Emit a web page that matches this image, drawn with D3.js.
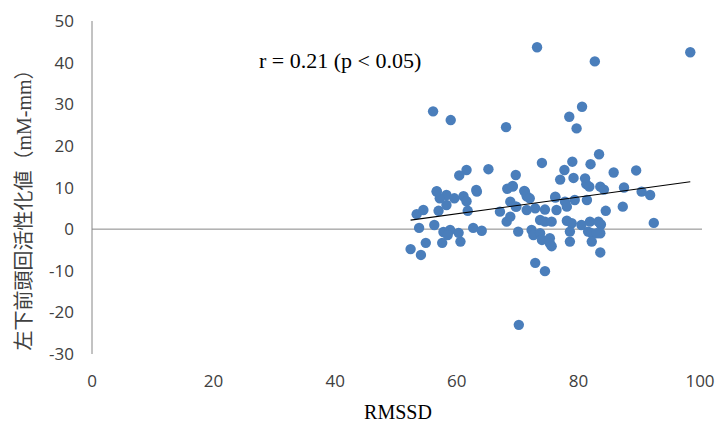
<!DOCTYPE html>
<html>
<head>
<meta charset="utf-8">
<script src="https://cdn.jsdelivr.net/npm/d3@7"></script>
<style>
  html, body { margin: 0; padding: 0; background: #fff; }
  svg { display: block; }
</style>
</head>
<body>
<svg id="chart" width="720" height="426"></svg>
<script>
// RMSSD (x) vs activation of left inferior frontal gyrus (y)
const rmssd = [
  73.2, 82.7, 98.4, 56.1, 59.0, 68.1, 80.6, 78.5, 79.7, 83.4,
  74.0, 79.0, 82.0, 77.7, 77.0, 79.2, 81.1, 69.7, 81.3, 83.6,
  81.8, 69.2, 71.1, 84.2, 76.2, 71.5, 85.8, 89.5, 87.5, 90.4,
  91.8, 84.5, 87.3, 83.7, 92.4, 83.6, 83.6, 74.5, 70.2, 53.4,
  54.5, 53.8, 56.3, 57.0, 52.4, 54.1, 54.9, 57.6, 60.6, 57.8,
  58.9, 58.5, 60.3, 62.7, 64.1, 56.7, 58.3, 57.2, 59.6, 61.1,
  61.6, 63.3, 58.3, 61.8, 67.1, 68.8, 69.7, 68.2, 68.8, 70.1,
  71.2, 72.0, 69.8, 71.5, 72.9, 74.5, 76.4, 78.1, 76.2, 77.8,
  79.4, 81.4, 73.7, 74.5, 75.6, 78.1, 78.9, 80.5, 81.9, 83.3,
  72.3, 72.6, 73.7, 74.0, 75.3, 75.3, 75.6, 78.6, 78.6, 81.6,
  82.2, 83.0, 82.2, 72.9, 61.6, 60.4, 65.2, 63.2, 68.3, 69.2,
  56.7
];
const activation = [
  43.7, 40.3, 42.5, 28.3, 26.2, 24.5, 29.4, 27.0, 24.2, 18.0,
  15.9, 16.2, 15.6, 14.2, 11.9, 12.3, 12.2, 13.0, 10.8, 10.2,
  10.2, 10.2, 9.2, 9.5, 7.8, 7.9, 13.6, 14.1, 10.0, 9.0,
  8.2, 4.4, 5.4, 1.1, 1.5, -1.0, -5.6, -10.1, -23.0, 3.6,
  4.6, 0.3, 1.0, 4.4, -4.8, -6.2, -3.3, -3.3, -3.0, -0.7,
  -0.2, -1.4, -0.9, 0.3, -0.4, 9.0, 8.2, 7.4, 7.4, 7.9,
  6.7, 9.0, 5.8, 4.4, 4.2, 6.6, 5.4, 1.8, 3.0, -0.6,
  9.0, 7.4, 5.4, 4.6, 5.0, 4.7, 4.6, 5.4, 7.6, 6.6,
  7.0, 7.0, 2.2, 1.8, 1.8, 2.0, 1.4, 1.0, 1.8, 1.8,
  -0.2, -1.4, -1.0, -2.6, -2.2, -3.4, -4.1, -0.6, -3.0, -0.6,
  -1.0, -1.0, -3.0, -8.1, 14.2, 12.9, 14.4, 9.4, 9.7, 10.4,
  9.1
];

// Linear trend line
const trendSlope = 0.2004;
const trendIntercept = -8.34;

const xTicks = [0, 20, 40, 60, 80, 100];
const yTicks = [-30, -20, -10, 0, 10, 20, 30, 40, 50];

const xTitle = "RMSSD";
const yTitleCJK = "左下前頭回活性化値（";
const yTitleUnit = "mM-mm";
const yTitleClose = "）";
const annotation = "r = 0.21 (p < 0.05)";

const svg = d3.select("#chart");

const x = d3.scaleLinear().domain([0, 100]).range([92, 700]);
const y = d3.scaleLinear().domain([-30, 50]).range([354, 21]);

const gridColor = "#868686";
const dotColor = "#4a7ebb";
const tickFont = "'Open Sans', 'Noto Sans', 'Liberation Sans', sans-serif";
const serif = "'Liberation Serif', 'Times New Roman', serif";

// Vertical axis line
svg.append("line")
  .attr("x1", x(0)).attr("x2", x(0))
  .attr("y1", y(50)).attr("y2", y(-30))
  .attr("stroke", gridColor).attr("stroke-width", 1);

// Horizontal axis crosses at zero
svg.append("line")
  .attr("x1", x(0)).attr("x2", x(100) + 2)
  .attr("y1", y(0)).attr("y2", y(0))
  .attr("stroke", gridColor).attr("stroke-width", 1);

// Y tick labels
svg.append("g").selectAll("text")
  .data(yTicks).join("text")
  .attr("x", x(0) - 18)
  .attr("y", d => y(d))
  .attr("dy", "0.36em")
  .attr("text-anchor", "end")
  .attr("font-family", tickFont)
  .attr("font-size", 17)
  .attr("fill", "#404040")
  .text(d => d);

// X tick labels along the bottom
svg.append("g").selectAll("text")
  .data(xTicks).join("text")
  .attr("x", d => x(d))
  .attr("y", 381)
  .attr("dy", "0.36em")
  .attr("text-anchor", "middle")
  .attr("font-family", tickFont)
  .attr("font-size", 17)
  .attr("fill", "#404040")
  .text(d => d);

// Points
const pts = rmssd.map((v, i) => ({ x: v, y: activation[i] }));
svg.append("g").selectAll("circle")
  .data(pts).join("circle")
  .attr("cx", d => x(d.x))
  .attr("cy", d => y(d.y))
  .attr("r", 5.2)
  .attr("fill", dotColor);

// Trend line over the data's x range
const [xMin, xMax] = d3.extent(rmssd);
svg.append("line")
  .attr("x1", x(xMin)).attr("y1", y(trendSlope * xMin + trendIntercept))
  .attr("x2", x(xMax)).attr("y2", y(trendSlope * xMax + trendIntercept))
  .attr("stroke", "#000").attr("stroke-width", 1.2);

// Correlation annotation
svg.append("text")
  .attr("x", 259).attr("y", 68)
  .attr("font-family", serif)
  .attr("font-size", 22)
  .attr("fill", "#000")
  .text(annotation);

// X axis title
svg.append("text")
  .attr("x", 398).attr("y", 419)
  .attr("text-anchor", "middle")
  .attr("font-family", serif)
  .attr("font-size", 20)
  .attr("fill", "#000")
  .text(xTitle);

// Y axis title (rotated)
const yt = svg.append("text")
  .attr("transform", "translate(31,205) rotate(-90)")
  .attr("text-anchor", "middle")
  .attr("font-size", 20)
  .attr("fill", "#404040");
yt.append("tspan").attr("font-family", "'Noto Sans CJK JP', sans-serif").text(yTitleCJK);
yt.append("tspan").attr("font-family", serif).text(yTitleUnit);
yt.append("tspan").attr("font-family", "'Noto Sans CJK JP', sans-serif").text(yTitleClose);
</script>
</body>
</html>
